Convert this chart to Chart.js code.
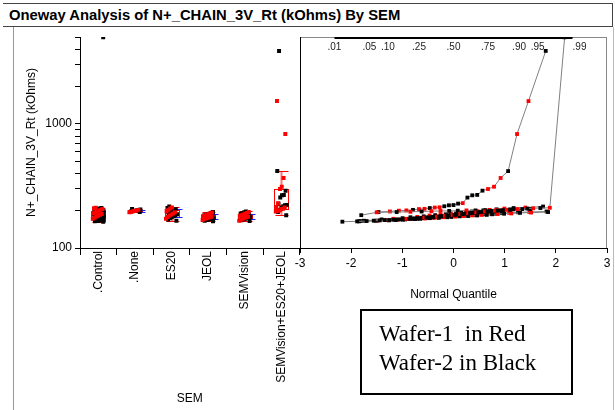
<!DOCTYPE html>
<html>
<head>
<meta charset="utf-8">
<script src="https://cdn.jsdelivr.net/npm/chart.js@4/dist/chart.umd.min.js"></script>
<style>
html,body{margin:0;padding:0;background:#fff;}
#wrap{position:relative;width:615px;height:410px;overflow:hidden;font-family:"Liberation Sans",Arial,sans-serif;}
.abs{position:absolute;}
#titlebox{left:3px;top:3px;width:610px;height:24px;border-top:1px solid #444;border-bottom:1px solid #444;border-right:1px solid #444;box-sizing:border-box;}
#title{left:9px;top:6px;font-weight:bold;font-size:14.8px;line-height:18px;color:#000;white-space:nowrap;}
#lline{left:13px;top:27px;width:1px;height:383px;background:#999;}
#rline{left:613px;top:27px;width:1px;height:383px;background:#bbb;}
#legend{left:360px;top:309px;width:213px;height:86px;border:2px solid #000;box-sizing:border-box;}
.lt{font-family:"Liberation Serif","Times New Roman",serif;font-size:23px;line-height:26px;color:#000;white-space:pre;left:379px;}
canvas{position:absolute;top:0;}
</style>
</head>
<body>
<div id="wrap">
  <div id="titlebox" class="abs"></div>
  <div id="title" class="abs">Oneway Analysis of N+_CHAIN_3V_Rt (kOhms) By SEM</div>
  <div id="lline" class="abs"></div>
  <div id="rline" class="abs"></div>
  <canvas id="cL" width="310" height="410" style="left:0px"></canvas>
  <canvas id="cR" width="325" height="410" style="left:290px"></canvas>
  <div id="legend" class="abs"></div>
  <div class="abs lt" style="top:321px">Wafer-1  in Red</div>
  <div class="abs lt" style="top:350px">Wafer-2 in Black</div>
</div>
<script>
// ---------------- data (kOhms) ----------------
const categories = ['.Control', '.None', 'ES20', 'JEOL', 'SEMVision', 'SEMVision+ES20+JEOL'];

// Wafer-1 (red) and Wafer-2 (black) readings per SEM group
const controlRed   = [172, 176, 179, 182, 185, 188, 191, 194, 197, 200, 203, 206, 209, 211];
const controlBlack = [163, 164, 165, 166, 167, 168, 168, 169, 170, 170, 171, 172, 172, 173, 174, 174, 175, 176, 176, 177, 178, 178, 179, 180, 181, 182, 183, 184, 185, 186, 187, 188, 189, 190, 191, 192, 193, 194, 195, 196, 197, 198, 199, 200, 201, 202, 204, 205, 206, 208, 210, 5000];
const noneRed      = [194, 196, 198, 199, 201, 203];
const noneBlack    = [195, 197, 199, 200, 201, 202, 204, 206];
const es20Red      = [172, 178, 183, 186, 190, 194, 198, 203, 208, 212];
const es20Black    = [166, 170, 174, 177, 180, 184, 187, 190, 193, 197, 201, 205, 210, 216];
const jeolRed      = [168, 171, 173, 175, 177, 179, 181, 183, 185, 188, 190, 193];
const jeolBlack    = [164, 166, 168, 169, 171, 172, 174, 175, 177, 178, 180, 181, 183, 185, 187, 189, 192, 195];
const semvRed      = [166, 169, 172, 175, 177, 179, 182, 184, 186, 189, 192, 195];
const semvBlack    = [165, 167, 170, 172, 174, 176, 178, 180, 181, 183, 185, 187, 189, 191, 194, 197];
const comboRed     = [197, 200, 201, 206, 207, 212, 213, 230, 299, 312, 367, 830, 1530];
const comboBlack   = [184, 195, 203, 210, 217, 221, 222, 228, 255, 266, 268, 290, 417, 3885];

const yTickValues  = [100, 200, 300, 400, 500, 600, 700, 800, 900, 1000, 2000, 3000, 4000, 5000];
const yTickLabels  = ['100', '1000'];
const quantTicks   = [-3, -2, -1, 0, 1, 2, 3];
const probValues   = [0.01, 0.05, 0.10, 0.25, 0.50, 0.75, 0.90, 0.95, 0.99];
const probLabels   = ['.01', '.05', '.10', '.25', '.50', '.75', '.90', '.95', '.99'];

const groups = [
  [controlRed, controlBlack], [noneRed, noneBlack], [es20Red, es20Black],
  [jeolRed, jeolBlack], [semvRed, semvBlack], [comboRed, comboBlack]
];

// ---------------- helpers ----------------
const RED = '#ff0000', BLACK = '#000000', BLUE = '#2020ff';
const Y_MIN = 100, Y_MAX = 5030;
Chart.defaults.font.family = '"Liberation Sans", Arial, sans-serif';
Chart.defaults.font.size = 12;
Chart.defaults.color = '#000';

function qnorm(p) { // Acklam inverse normal CDF
  const a = [-3.969683028665376e+01, 2.209460984245205e+02, -2.759285104469687e+02, 1.383577518672690e+02, -3.066479806614716e+01, 2.506628277459239e+00];
  const b = [-5.447609879822406e+01, 1.615858368580409e+02, -1.556989798598866e+02, 6.680131188771972e+01, -1.328068155288572e+01];
  const c = [-7.784894002430293e-03, -3.223964580411365e-01, -2.400758277161838e+00, -2.549732539343734e+00, 4.374664141464968e+00, 2.938163982698783e+00];
  const d = [7.784695709041462e-03, 3.224671290700398e-01, 2.445134137142996e+00, 3.754408661907416e+00];
  const pl = 0.02425;
  let q, r;
  if (p < pl) { q = Math.sqrt(-2 * Math.log(p)); return (((((c[0]*q+c[1])*q+c[2])*q+c[3])*q+c[4])*q+c[5]) / ((((d[0]*q+d[1])*q+d[2])*q+d[3])*q+1); }
  if (p > 1 - pl) { q = Math.sqrt(-2 * Math.log(1 - p)); return -(((((c[0]*q+c[1])*q+c[2])*q+c[3])*q+c[4])*q+c[5]) / ((((d[0]*q+d[1])*q+d[2])*q+d[3])*q+1); }
  q = p - 0.5; r = q * q;
  return (((((a[0]*r+a[1])*r+a[2])*r+a[3])*r+a[4])*r+a[5])*q / (((((b[0]*r+b[1])*r+b[2])*r+b[3])*r+b[4])*r+1);
}
function quantile(sorted, p) {
  const n = sorted.length, h = (n + 1) * p;
  if (h <= 1) return sorted[0];
  if (h >= n) return sorted[n - 1];
  const lo = Math.floor(h);
  return sorted[lo - 1] + (h - lo) * (sorted[lo] - sorted[lo - 1]);
}
function stats(vals) {
  const s = vals.slice().sort((a, b) => a - b);
  const q1 = quantile(s, 0.25), q3 = quantile(s, 0.75), med = quantile(s, 0.5);
  const iqr = q3 - q1;
  const lo = s.find(v => v >= q1 - 1.5 * iqr);
  const hi = s.slice().reverse().find(v => v <= q3 + 1.5 * iqr);
  const mean = s.reduce((t, v) => t + v, 0) / s.length;
  const sd = Math.sqrt(s.reduce((t, v) => t + (v - mean) * (v - mean), 0) / (s.length - 1));
  return { q1, q3, med, lo, hi, mean, sd };
}
function jitter(k) { return ((((k * 37) % 17) / 16) - 0.5) * 0.26; }

// ---------------- left: jittered points by group ----------------
const leftRed = [], leftBlack = [];
groups.forEach((g, i) => {
  g[0].forEach((v, k) => leftRed.push({ x: i + 0.5 + jitter(k) - 0.02, y: v }));
  g[1].forEach((v, k) => leftBlack.push({ x: i + 0.5 + jitter(k + 5) + 0.02, y: v }));
});

const boxPlugin = {
  id: 'boxes',
  beforeDatasetsDraw(chart) {
    const { ctx, scales: { x, y } } = chart;
    groups.forEach((g, i) => {
      const st = stats(g[0].concat(g[1]));
      const cx = Math.round(x.getPixelForValue(i + 0.5)) + 0.5;
      const P = v => Math.round(y.getPixelForValue(v)) + 0.5;
      ctx.save();
      ctx.strokeStyle = 'rgba(255,0,0,0.55)'; ctx.lineWidth = 2;
      ctx.beginPath();
      ctx.moveTo(cx, P(st.q3)); ctx.lineTo(cx, P(st.hi));
      ctx.moveTo(cx, P(st.q1)); ctx.lineTo(cx, P(st.lo));
      ctx.stroke();
      ctx.strokeStyle = RED; ctx.lineWidth = 1;
      ctx.beginPath();
      ctx.moveTo(cx - 6, P(st.hi)); ctx.lineTo(cx + 7, P(st.hi));
      ctx.moveTo(cx - 6, P(st.lo)); ctx.lineTo(cx + 7, P(st.lo));
      ctx.moveTo(cx - 7, P(st.med)); ctx.lineTo(cx + 7, P(st.med));
      ctx.stroke();
      ctx.strokeRect(cx - 7, P(st.q3), 14, P(st.q1) - P(st.q3));
      if (st.mean - st.sd > Y_MIN) {
        ctx.strokeStyle = BLUE;
        ctx.beginPath();
        ctx.moveTo(cx - 3, P(st.mean + st.sd)); ctx.lineTo(cx + 10, P(st.mean + st.sd));
        ctx.moveTo(cx - 3, P(st.mean - st.sd)); ctx.lineTo(cx + 10, P(st.mean - st.sd));
        ctx.stroke();
      }
      ctx.restore();
    });
  }
};

new Chart(document.getElementById('cL'), {
  type: 'scatter',
  data: {
    datasets: [
      { data: leftRed, backgroundColor: RED, borderWidth: 0, pointStyle: 'rect', pointRadius: 2.8 },
      { data: leftBlack, backgroundColor: BLACK, borderWidth: 0, pointStyle: 'rect', pointRadius: 2.8 }
    ]
  },
  options: {
    responsive: false, animation: false, devicePixelRatio: 1,
    layout: { padding: { left: 20, top: 37, right: 10, bottom: 0 } },
    plugins: { legend: { display: false }, tooltip: { enabled: false } },
    scales: {
      x: {
        type: 'linear', min: 0, max: categories.length,
        afterBuildTicks: s => { s.ticks = categories.flatMap((c, i) => [{ value: i }, { value: i + 0.5 }]).concat([{ value: categories.length }]); },
        afterFit: s => { s.height = 162; },
        grid: { drawOnChartArea: false, drawTicks: true, tickLength: 7,
                color: c => (c.tick && c.tick.value % 1 === 0) ? '#000' : 'rgba(0,0,0,0)' },
        border: { display: true, color: '#000', width: 1 },
        ticks: { autoSkip: false, minRotation: 90, maxRotation: 90, padding: -4, color: '#000',
                 callback: v => (Math.abs(v % 1 - 0.5) < 1e-6) ? categories[Math.floor(v)] : '' },
        title: { display: true, text: 'SEM', color: '#000', padding: { top: 4, bottom: 4 } }
      },
      y: {
        type: 'logarithmic', min: Y_MIN, max: Y_MAX,
        afterBuildTicks: s => { s.ticks = yTickValues.map(v => ({ value: v })); },
        afterFit: s => { s.width = 60; },
        grid: { drawOnChartArea: false, tickLength: 5, color: '#000' },
        border: { display: true, color: '#000', width: 1 },
        ticks: { padding: 3, color: '#000', autoSkip: false,
                 callback: v => yTickLabels.includes(String(v)) ? String(v) : '' },
        title: { display: true, text: 'N+_CHAIN_3V_Rt (kOhms)', color: '#000', padding: { top: 4, bottom: 4 } }
      }
    }
  },
  plugins: [boxPlugin]
});

// ---------------- right: normal quantile plot ----------------
const quantSets = groups.map(g => {
  const pts = g[0].map(v => ({ v, c: RED })).concat(g[1].map(v => ({ v, c: BLACK })));
  pts.sort((a, b) => a.v - b.v);
  const n = pts.length;
  return {
    data: pts.map((p, i) => ({ x: qnorm((i + 1) / (n + 1)), y: p.v })),
    showLine: true, borderColor: '#808080', borderWidth: 1,
    pointBackgroundColor: pts.map(p => p.c), pointBorderWidth: 0,
    pointStyle: 'rect', pointRadius: 2.7
  };
});

const framePlugin = {
  id: 'frame',
  beforeDatasetsDraw(chart) {
    const { ctx, chartArea: a, scales: { x } } = chart;
    ctx.save();
    ctx.lineWidth = 1;
    ctx.strokeStyle = '#888';
    ctx.beginPath();
    ctx.moveTo(a.left, a.top + 0.5); ctx.lineTo(a.right, a.top + 0.5);
    ctx.moveTo(a.right - 0.5, a.top); ctx.lineTo(a.right - 0.5, a.bottom);
    ctx.stroke();
    ctx.strokeStyle = '#000';
    ctx.beginPath();
    ctx.moveTo(a.left + 0.5, a.top); ctx.lineTo(a.left + 0.5, a.bottom);
    ctx.stroke();
    ctx.lineWidth = 2;
    ctx.beginPath();
    ctx.moveTo(x.getPixelForValue(qnorm(probValues[0])), a.top + 1);
    ctx.lineTo(x.getPixelForValue(qnorm(probValues[probValues.length - 1])), a.top + 1);
    ctx.stroke();
    ctx.fillStyle = '#222';
    ctx.font = '10px "Liberation Sans", Arial, sans-serif';
    ctx.textAlign = 'center'; ctx.textBaseline = 'middle';
    probValues.forEach((p, i) => {
      const px = x.getPixelForValue(qnorm(p));
      ctx.fillText(probLabels[i], px + (i === probValues.length - 1 ? 7 : 0), a.top + 10);
    });
    ctx.restore();
  }
};

new Chart(document.getElementById('cR'), {
  type: 'scatter',
  data: { datasets: quantSets },
  options: {
    responsive: false, animation: false, devicePixelRatio: 1,
    layout: { padding: { left: 10, top: 37, right: 8, bottom: 104 } },
    plugins: { legend: { display: false }, tooltip: { enabled: false } },
    scales: {
      x: {
        type: 'linear', min: -3, max: 3,
        afterBuildTicks: s => { s.ticks = quantTicks.map(v => ({ value: v })); },
        afterFit: s => { s.height = 58; },
        grid: { drawOnChartArea: false, tickLength: 5, color: '#000' },
        border: { display: true, color: '#000', width: 1 },
        ticks: { padding: 3, color: '#000', maxRotation: 0, autoSkip: false },
        title: { display: true, text: 'Normal Quantile', color: '#000', padding: { top: 4, bottom: 4 } }
      },
      y: { type: 'logarithmic', min: Y_MIN, max: Y_MAX, display: false }
    }
  },
  plugins: [framePlugin]
});
</script>
</body>
</html>
